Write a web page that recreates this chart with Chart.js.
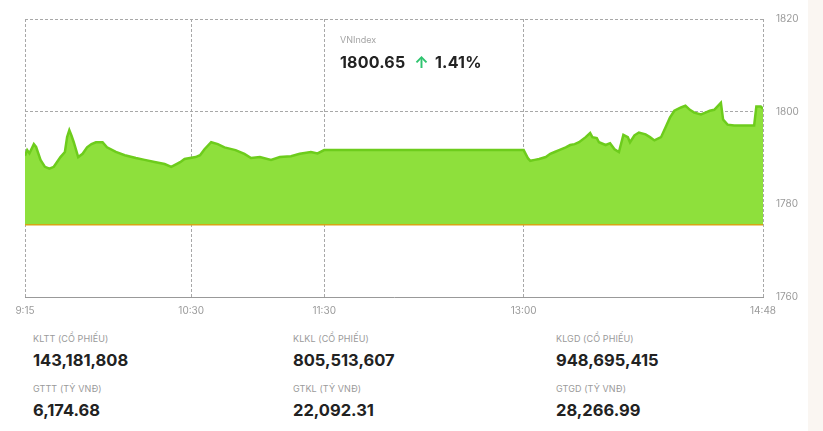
<!DOCTYPE html>
<html>
<head>
<meta charset="utf-8">
<script src="https://cdn.jsdelivr.net/npm/chart.js@4.4.1/dist/chart.umd.min.js"></script>
<style>
  html, body { margin: 0; padding: 0; background: #fff; }
  body { width: 823px; height: 431px; position: relative; overflow: hidden; font-family: Inter, "Open Sans", sans-serif; }
  .strip { position: absolute; left: 808px; top: 0; width: 15px; height: 431px; background: #faf6f2; }
  .chart-box { position: absolute; left: 0; top: 0; width: 808px; height: 322px; }
  .badge { position: absolute; left: 340px; top: 34px; }
  .badge .name { font-size: 9px; color: #a5a5a5; }
  .badge .price { margin-top: 7px; font-size: 16px; font-weight: 700; color: #222; letter-spacing: 0.2px; }
  .badge .arrow { color: #2fc46f; margin: 0 6px 0 9px; font-weight: 700; }
  .stat { position: absolute; }
  .stat .lbl { font-size: 9px; color: #9a9a9a; letter-spacing: 0.1px; }
  .stat .val { font-size: 16.5px; font-weight: 700; color: #222; margin-top: 6px; }
</style>
</head>
<body>
<div class="strip"></div>
<div class="chart-box"><canvas id="chart"></canvas></div>
<div class="badge">
  <div class="name">VNIndex</div>
  <div class="price">1800.65<span class="arrow">&#8593;</span>1.41%</div>
</div>
<div id="stats"></div>
<script>
// intraday VNIndex points (time, index value)
const times = [
  '9:15','9:16','9:17','9:19','9:20','9:22','9:24','9:26','9:28','9:31','9:33','9:34','9:35','9:36','9:37',
  '9:39','9:41','9:43','9:45','9:47','9:50','9:52','9:56','10:00','10:05','10:09','10:14','10:18','10:21',
  '10:25','10:27','10:32','10:34','10:36','10:39','10:42','10:45','10:50','10:54','10:57','11:01','11:06',
  '11:10','11:15','11:19','11:24','11:27','11:30',
  '13:00','13:02','13:03','13:05','13:07','13:10','13:12','13:14','13:16','13:19','13:21','13:23','13:25',
  '13:28','13:30','13:31','13:33','13:34','13:37','13:39','13:41','13:43','13:45','13:47','13:48','13:50',
  '13:52','13:55','13:57','13:59','14:02','14:04','14:06','14:08','14:11','14:13','14:15','14:17','14:20',
  '14:22','14:24','14:26','14:29','14:30','14:32','14:35','14:40','14:44','14:45','14:47','14:48'
];
const values = [
  1790.5, 1791.7, 1791.0, 1793.0, 1792.4, 1789.6, 1788.1, 1787.7, 1788.1, 1790.2, 1791.3, 1794.5, 1796.0, 1794.8, 1793.4,
  1790.2, 1790.9, 1792.3, 1793.0, 1793.4, 1793.4, 1792.3, 1791.3, 1790.6, 1790.0, 1789.6, 1789.1, 1788.7, 1788.1,
  1789.1, 1789.8, 1790.2, 1790.6, 1791.9, 1793.4, 1793.0, 1792.3, 1791.7, 1790.9, 1790.0, 1790.2, 1789.6,
  1790.2, 1790.4, 1790.9, 1791.3, 1791.0, 1791.7,
  1791.7, 1789.9, 1789.4, 1789.6, 1789.8, 1790.2, 1790.9, 1791.3, 1791.7, 1792.3, 1792.8, 1793.0, 1793.4,
  1794.5, 1795.4, 1794.5, 1794.3, 1793.4, 1792.8, 1793.2, 1791.9, 1791.3, 1795.0, 1794.5, 1793.4, 1794.9,
  1795.5, 1795.1, 1794.5, 1793.8, 1794.5, 1796.6, 1798.7, 1800.2, 1800.9, 1801.3, 1800.4, 1799.8, 1799.4,
  1799.8, 1800.2, 1800.4, 1801.9, 1798.3, 1797.2, 1797.0, 1797.0, 1797.0, 1801.1, 1801.1, 1800.65
];
const refValue = 1775.62; // previous close
const tickLabels = ['9:15', '10:30', '11:30', '13:00', '14:48'];
const yTicks = [1760, 1780, 1800, 1820];

const statLabels = ['KLTT (CỔ PHIẾU)', 'KLKL (CỔ PHIẾU)', 'KLGD (CỔ PHIẾU)', 'GTTT (TỶ VNĐ)', 'GTKL (TỶ VNĐ)', 'GTGD (TỶ VNĐ)'];
const statValues = ['143,181,808', '805,513,607', '948,695,415', '6,174.68', '22,092.31', '28,266.99'];

// minutes since the 9:15 open
const toMin = (s) => {
  const [h, m] = s.split(':').map(Number);
  return h * 60 + m - (9 * 60 + 15);
};
const tickMins = tickLabels.map(toMin);
const points = times.map((t, i) => ({ x: toMin(t), y: values[i] }));
const refLine = [{ x: 0, y: refValue }, { x: tickMins[tickMins.length - 1], y: refValue }];

// stats block under the chart
const statCols = [33, 293, 556];
const statRows = [333, 383];
const statsEl = document.getElementById('stats');
statLabels.forEach((lbl, i) => {
  const d = document.createElement('div');
  d.className = 'stat';
  d.style.left = statCols[i % 3] + 'px';
  d.style.top = statRows[Math.floor(i / 3)] + 'px';
  d.innerHTML = '<div class="lbl">' + lbl + '</div><div class="val">' + statValues[i] + '</div>';
  statsEl.appendChild(d);
});

const gridGray = '#a8a8a8';

new Chart(document.getElementById('chart'), {
  type: 'line',
  data: {
    datasets: [
      {
        data: points,
        borderColor: '#6dcc1c',
        backgroundColor: '#8ee03c',
        borderWidth: 2.5,
        pointRadius: 0,
        tension: 0,
        fill: { value: refValue },
        order: 1,
      },
      {
        data: refLine,
        borderColor: '#d6a514',
        borderWidth: 1.5,
        pointRadius: 0,
        fill: false,
        order: 0,
      },
    ],
  },
  options: {
    responsive: true,
    maintainAspectRatio: false,
    animation: false,
    layout: { padding: { left: 25, top: 11, right: 0, bottom: 0 } },
    plugins: { legend: { display: false }, tooltip: { enabled: false } },
    scales: {
      x: {
        type: 'linear',
        min: 0,
        max: tickMins[tickMins.length - 1],
        afterBuildTicks: (axis) => { axis.ticks = tickMins.map((v) => ({ value: v })); },
        afterFit: (axis) => { axis.height = 25; },
        ticks: {
          autoSkip: false,
          maxRotation: 0,
          padding: 8,
          color: '#9a9a9a',
          font: { family: 'Inter', size: 10 },
          callback: (v) => tickLabels[tickMins.indexOf(v)],
        },
        grid: { color: gridGray, lineWidth: 1, drawTicks: false },
        border: { display: true, color: '#999', width: 1, dash: [3, 2] },
      },
      y: {
        position: 'right',
        min: 1760,
        max: 1820,
        afterBuildTicks: (axis) => { axis.ticks = yTicks.map((v) => ({ value: v })); },
        afterFit: (axis) => { axis.width = 45; },
        ticks: {
          padding: 13,
          color: '#9a9a9a',
          font: { family: 'Inter', size: 10 },
          callback: (v) => String(v),
        },
        grid: {
          color: (ctx) => (ctx.tick && ctx.tick.value === 1760 ? '#999' : gridGray),
          drawTicks: false,
        },
        border: { display: false, dash: [3, 2] },
      },
    },
  },
});
</script>
</body>
</html>
